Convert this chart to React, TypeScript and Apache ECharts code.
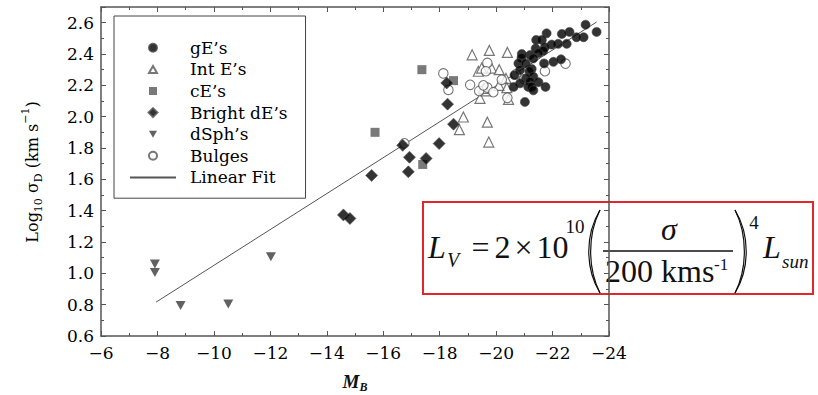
import React, { useEffect, useRef } from 'react';
import * as echarts from 'echarts';

// ---- data (M_B, log10 sigma) ----
const gEs: number[][] = [
  [-23.17, 2.587], [-23.56, 2.541], [-23.1, 2.507], [-22.85, 2.507], [-22.6, 2.541],
  [-22.33, 2.528], [-21.79, 2.532], [-22.5, 2.465], [-22.2, 2.465], [-21.97, 2.46],
  [-21.42, 2.49], [-21.62, 2.49], [-21.73, 2.443], [-21.4, 2.435], [-21.67, 2.42],
  [-21.5, 2.405], [-21.2, 2.393], [-20.91, 2.4], [-20.9, 2.375], [-21.32, 2.372],
  [-20.79, 2.34], [-21.05, 2.34], [-21.7, 2.34], [-22.03, 2.35], [-22.3, 2.366],
  [-20.85, 2.298], [-21.26, 2.305], [-21.18, 2.29], [-20.65, 2.265], [-21.32, 2.255],
  [-21.06, 2.244], [-21.2, 2.223], [-21.5, 2.22], [-20.85, 2.213], [-20.62, 2.19],
  [-21.14, 2.19], [-21.26, 2.19], [-21.75, 2.19], [-21.32, 2.168], [-21.02, 2.094],
];
const intEs: number[][] = [
  [-19.15, 2.395], [-19.76, 2.423], [-20.4, 2.41], [-19.37, 2.29], [-19.49, 2.31],
  [-19.84, 2.31], [-20.11, 2.3], [-19.43, 2.117], [-19.64, 2.164], [-20.35, 2.244],
  [-20.38, 2.185], [-20.44, 2.11], [-18.84, 1.998], [-18.7, 1.917], [-19.69, 1.965],
  [-19.74, 1.838], [-19.55, 2.18], [-20.1, 2.2],
];
const cEs: number[][] = [
  [-17.37, 2.3], [-18.49, 2.23], [-15.71, 1.9], [-17.4, 1.695],
];
const brightDEs: number[][] = [
  [-14.59, 1.373], [-14.82, 1.35], [-15.59, 1.625], [-16.93, 1.741], [-16.89, 1.648],
  [-17.52, 1.733], [-16.69, 1.817], [-17.98, 1.828], [-18.49, 1.952], [-18.28, 2.08],
  [-18.25, 2.215],
];
const dSphs: number[][] = [
  [-7.91, 1.06], [-7.91, 1.005], [-8.82, 0.795], [-10.51, 0.805], [-12.02, 1.106],
];
const bulges: number[][] = [
  [-16.75, 1.83], [-18.13, 2.276], [-18.31, 2.171], [-19.08, 2.203], [-19.69, 2.343],
  [-19.64, 2.29], [-19.4, 2.164], [-19.69, 2.185], [-19.9, 2.156], [-20.4, 2.12],
  [-20.2, 2.235], [-22.46, 2.338], [-21.73, 2.29], [-20.7, 2.27], [-21.0, 2.24],
  [-19.55, 2.2],
];
const linearFit: number[][] = [[-7.95, 0.816], [-23.56, 2.604]];

const legendNames = ['gE’s', 'Int E’s', 'cE’s', 'Bright dE’s', 'dSph’s', 'Bulges', 'Linear Fit'];
const xRange = { min: -24, max: -6, interval: 2 };
const yRange = { min: 0.6, max: 2.7, interval: 0.2 };

const AX = '#555';
const SERIF = 'DejaVu Serif';
const TIMES = 'Liberation Serif';

// legend icons drawn in a 46x10 box so they keep their own proportions
const ICON_BOX = 'M0,0M46,10';
const legendIcons: Record<string, string> = {
  'gE’s': `path://${ICON_BOX}M27,5A4,4,0,1,1,19,5A4,4,0,1,1,27,5Z`,
  'Int E’s': `path://${ICON_BOX}M19,8.5L23,1.5L27,8.5Z`,
  'cE’s': `path://${ICON_BOX}M19,1L27,1L27,9L19,9Z`,
  'Bright dE’s': `path://${ICON_BOX}M23,0.5L27.5,5L23,9.5L18.5,5Z`,
  'dSph’s': `path://${ICON_BOX}M19,1.5L27,1.5L23,8.5Z`,
  'Bulges': `path://${ICON_BOX}M27,5A4,4,0,1,1,19,5A4,4,0,1,1,27,5Z`,
};

function xFmt(v: number) {
  return (v < 0 ? '\u2212' : '') + Math.abs(v);
}
function yFmt(v: number) {
  const k = v / yRange.interval;
  return Math.abs(k - Math.round(k)) < 1e-6 ? v.toFixed(1) : '';
}

function makeXAxis(pos: 'bottom' | 'top') {
  return {
    type: 'value', position: pos, inverse: true, ...xRange,
    axisLine: { onZero: false, lineStyle: { color: AX, width: 1.5 } },
    axisTick: { inside: true, length: 5, lineStyle: { color: AX, width: 1 } },
    minorTick: { show: true, splitNumber: 2, length: 3, lineStyle: { color: AX, width: 1 } },
    splitLine: { show: false }, minorSplitLine: { show: false },
    axisLabel: {
      show: pos === 'bottom', margin: 8, fontFamily: SERIF, fontSize: 17, color: '#000',
      formatter: xFmt,
    },
  };
}
function makeYAxis(pos: 'left' | 'right') {
  return {
    type: 'value', position: pos, ...yRange,
    axisLine: { onZero: false, lineStyle: { color: AX, width: 1.5 } },
    axisTick: { inside: true, length: 5, lineStyle: { color: AX, width: 1 } },
    minorTick: { show: true, splitNumber: 2, length: 3, lineStyle: { color: AX, width: 1 } },
    splitLine: { show: false }, minorSplitLine: { show: false },
    axisLabel: {
      show: pos === 'left', margin: 7, fontFamily: SERIF, fontSize: 17, color: '#000',
      formatter: yFmt,
    },
  };
}

function txt(text: string, x: number, y: number, font: string, align = 'left', extra: any = {}) {
  return {
    type: 'text', x, y, ...extra,
    style: { text, font, fill: '#111', align, verticalAlign: 'middle' },
  };
}
function curve(x1: number, y1: number, cx: number, x2: number, y2: number, w: number) {
  return {
    type: 'bezierCurve',
    shape: { x1, y1, x2, y2, cpx1: cx, cpy1: y1 + (y2 - y1) * 0.3, cpx2: cx, cpy2: y1 + (y2 - y1) * 0.7 },
    style: { stroke: '#111', lineWidth: w, fill: 'none' },
  };
}

export default function App() {
  const ref = useRef<HTMLDivElement>(null);
  useEffect(() => {
    const chart = echarts.init(ref.current!, null, { renderer: 'svg' });
    const option: any = {
      animation: false,
      backgroundColor: '#fff',
      grid: { left: 101, right: 209, top: 7, bottom: 59 },
      xAxis: [makeXAxis('bottom'), makeXAxis('top')],
      yAxis: [makeYAxis('left'), makeYAxis('right')],
      legend: {
        orient: 'vertical', left: 114, top: 16,
        itemWidth: 46, itemHeight: 10, itemGap: 0,
        padding: [21, 18, 10, 15],
        borderColor: '#444', borderWidth: 1, backgroundColor: '#fff',
        selectedMode: false,
        textStyle: { fontFamily: SERIF, fontSize: 17, color: '#000', lineHeight: 21.6, padding: [0, 0, 0, 9] },
        data: legendNames.map((n) => (legendIcons[n] ? { name: n, icon: legendIcons[n] } : { name: n })),
      },
      series: [
        {
          name: legendNames[6], type: 'line', data: linearFit, symbol: 'none', z: 1,
          itemStyle: { color: 'rgba(0,0,0,0)', borderColor: 'rgba(0,0,0,0)' },
          lineStyle: { color: '#555', width: 1 }, silent: true,
        },
        {
          name: legendNames[1], type: 'scatter', data: intEs, symbol: 'triangle', symbolSize: 10, z: 2,
          itemStyle: { color: '#fff', borderColor: '#555', borderWidth: 1.2 },
        },
        {
          name: legendNames[5], type: 'scatter', data: bulges, symbol: 'circle', symbolSize: 9.5, z: 3,
          itemStyle: { color: '#fff', borderColor: '#555', borderWidth: 1.1 },
        },
        {
          name: legendNames[2], type: 'scatter', data: cEs, symbol: 'rect', symbolSize: 9, z: 4,
          itemStyle: { color: '#585858' },
        },
        {
          name: legendNames[3], type: 'scatter', data: brightDEs, symbol: 'diamond', symbolSize: 12, z: 4,
          itemStyle: { color: '#000', borderColor: '#555', borderWidth: 0.8 },
        },
        {
          name: legendNames[4], type: 'scatter', data: dSphs, symbol: 'path://M0,0L10,0L5,9Z', symbolSize: [10, 9], z: 4,
          itemStyle: { color: '#3a3a3a' },
        },
        {
          name: legendNames[0], type: 'scatter', data: gEs, symbol: 'circle', symbolSize: 9, z: 5,
          itemStyle: { color: '#000', borderColor: '#444', borderWidth: 0.8 },
        },
      ],
      graphic: [
        {
          type: 'text', x: 32, y: 172, rotation: Math.PI / 2,
          style: {
            text: '{n|Log}{sub|10}{n| σ}{sub|D}{n| (km s}{sup|\u22121}{n|)}',
            align: 'center', verticalAlign: 'middle', fill: '#111',
            rich: {
              n: { fontFamily: SERIF, fontSize: 16, lineHeight: 24, fill: '#000' },
              sub: { fontFamily: SERIF, fontSize: 11, lineHeight: 11, verticalAlign: 'bottom', fill: '#000' },
              sup: { fontFamily: SERIF, fontSize: 11, lineHeight: 11, verticalAlign: 'top', fill: '#000' },
            },
          },
        },
        {
          type: 'text', x: 355, y: 381,
          style: {
            text: '{m|M}{s|B}', align: 'center', verticalAlign: 'middle', fill: '#111',
            rich: {
              m: { fontFamily: TIMES, fontStyle: 'italic', fontWeight: 'bold', fontSize: 19, lineHeight: 24, fill: '#111' },
              s: { fontFamily: TIMES, fontStyle: 'italic', fontWeight: 'bold', fontSize: 12, lineHeight: 12, verticalAlign: 'bottom', fill: '#111' },
            },
          },
        },
        {
          type: 'group', z: 100,
          children: [
            {
              type: 'rect', shape: { x: 423, y: 202, width: 390, height: 92 },
              style: { fill: '#fff', stroke: '#e3262b', lineWidth: 2 },
            },
            txt('L', 428, 247, `italic 32px "${TIMES}"`),
            txt('V', 447, 260, `italic 20px "${TIMES}"`),
            txt('=', 480.5, 247, `32px "${TIMES}"`, 'center'),
            txt('2', 502.5, 247, `32px "${TIMES}"`, 'center'),
            txt('×', 523.5, 247, `32px "${TIMES}"`, 'center'),
            txt('10', 552.5, 247, `32px "${TIMES}"`, 'center'),
            txt('10', 575, 226, `19px "${TIMES}"`, 'center'),
            curve(600, 210, 585, 600, 293, 1.2),
            curve(600, 210, 587.5, 600, 293, 1.2),
            txt('σ', 669, 228.5, `italic 32px "${TIMES}"`, 'center'),
            {
              type: 'line', shape: { x1: 603, y1: 251, x2: 733, y2: 251 },
              style: { stroke: '#111', lineWidth: 1.5 },
            },
            txt('200 kms', 605, 271, `32px "${TIMES}"`),
            txt('-1', 714, 264, `17px "${TIMES}"`),
            curve(735, 210, 750, 735, 293, 1.2),
            curve(735, 210, 747.5, 735, 293, 1.2),
            txt('4', 754, 222, `19px "${TIMES}"`, 'center'),
            txt('L', 763, 247, `italic 32px "${TIMES}"`),
            txt('sun', 782, 261.5, `italic 19px "${TIMES}"`),
          ],
        },
      ],
    };
    chart.setOption(option);
    return () => chart.dispose();
  }, []);
  return (
    <div
      ref={ref}
      style={{ position: 'fixed', left: 0, top: 0, width: 818, height: 395, background: '#fff' }}
    />
  );
}
